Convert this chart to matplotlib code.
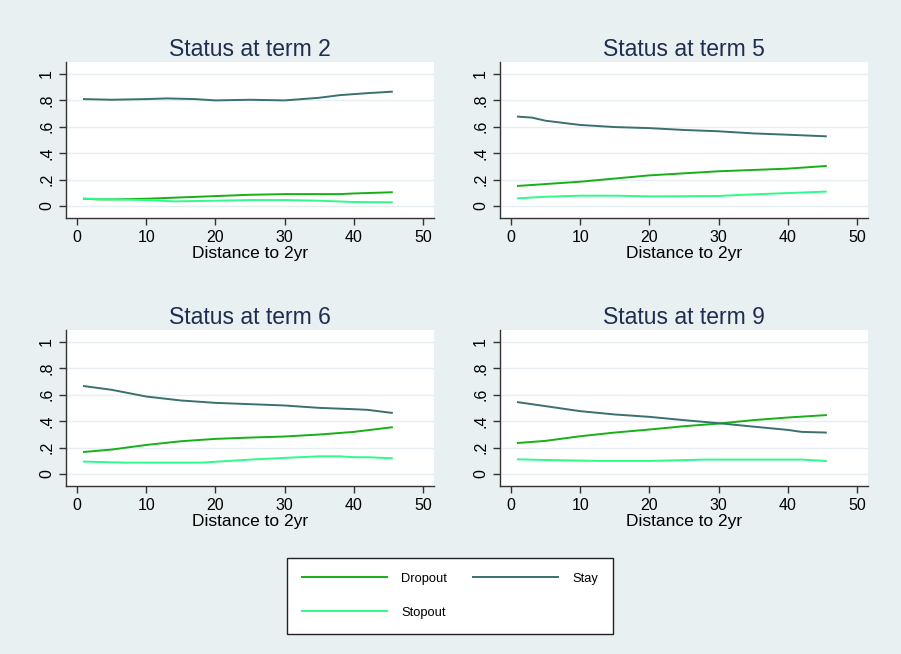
import matplotlib
matplotlib.use("Agg")
import matplotlib.pyplot as plt
import numpy as np

plt.rcParams['font.family'] = ['Liberation Sans', 'DejaVu Sans']

titles = ["Status at term 2", "Status at term 5", "Status at term 6", "Status at term 9"]
series_names = ["Dropout", "Stopout", "Stay"]
xlabel = "Distance to 2yr"
ytick_vals = [0, 0.2, 0.4, 0.6, 0.8, 1]
ytick_labels = ["0", ".2", ".4", ".6", ".8", "1"]
xtick_vals = [0, 10, 20, 30, 40, 50]

# term 2
t2_x_stay = [1, 5, 10, 13, 17, 20, 25, 30, 35, 38, 42, 45.5]
t2_stay = [0.81, 0.805, 0.81, 0.815, 0.81, 0.80, 0.805, 0.80, 0.82, 0.84, 0.855, 0.866]
t2_x_drop = [1, 3, 5, 10, 15, 20, 25, 30, 35, 38, 40, 45.5]
t2_drop = [0.055, 0.05, 0.05, 0.055, 0.065, 0.075, 0.085, 0.09, 0.09, 0.09, 0.095, 0.104]
t2_x_stop = [1, 5, 10, 14, 20, 25, 30, 35, 40, 45.5]
t2_stop = [0.055, 0.05, 0.045, 0.035, 0.04, 0.045, 0.045, 0.04, 0.03, 0.028]

# term 5
t5_x_stay = [1, 3, 5, 10, 15, 20, 25, 30, 35, 40, 45.5]
t5_stay = [0.677, 0.67, 0.646, 0.614, 0.598, 0.59, 0.576, 0.566, 0.55, 0.54, 0.528]
t5_x_drop = [1, 10, 20, 30, 40, 45.5]
t5_drop = [0.152, 0.184, 0.232, 0.263, 0.283, 0.303]
t5_x_stop = [1, 5, 10, 15, 20, 25, 30, 35, 40, 45.5]
t5_stop = [0.058, 0.07, 0.078, 0.078, 0.073, 0.074, 0.076, 0.088, 0.098, 0.109]

# term 6
t6_x_stay = [1, 5, 10, 15, 20, 25, 30, 35, 40, 42, 45.5]
t6_stay = [0.666, 0.638, 0.587, 0.557, 0.539, 0.529, 0.519, 0.501, 0.491, 0.486, 0.463]
t6_x_drop = [1, 5, 10, 15, 20, 25, 30, 35, 40, 45.5]
t6_drop = [0.167, 0.185, 0.22, 0.248, 0.266, 0.276, 0.284, 0.299, 0.319, 0.354]
t6_x_stop = [1, 7, 18, 25, 30, 35, 38, 40, 42, 45.5]
t6_stop = [0.094, 0.086, 0.086, 0.109, 0.122, 0.134, 0.134, 0.127, 0.127, 0.119]

# term 9
t9_x_stay = [1, 5, 10, 15, 20, 25, 30, 35, 40, 42, 45.5]
t9_stay = [0.544, 0.514, 0.476, 0.451, 0.433, 0.408, 0.385, 0.359, 0.334, 0.319, 0.314]
t9_x_drop = [1, 5, 10, 15, 20, 25, 30, 35, 40, 45.5]
t9_drop = [0.235, 0.251, 0.286, 0.314, 0.337, 0.362, 0.382, 0.408, 0.428, 0.446]
t9_x_stop = [1, 5, 13, 20, 28, 35, 42, 45.5]
t9_stop = [0.111, 0.106, 0.099, 0.099, 0.109, 0.109, 0.109, 0.099]

panels = [
    (t2_x_drop, t2_drop, t2_x_stop, t2_stop, t2_x_stay, t2_stay),
    (t5_x_drop, t5_drop, t5_x_stop, t5_stop, t5_x_stay, t5_stay),
    (t6_x_drop, t6_drop, t6_x_stop, t6_stop, t6_x_stay, t6_stay),
    (t9_x_drop, t9_drop, t9_x_stop, t9_stop, t9_x_stay, t9_stay),
]

colors = ["#17b017", "#2efb8c", "#3a7070"]
bg = "#e8f0f2"
title_color = "#1f2d4e"
W, H = 901, 654

fig = plt.figure(figsize=(W / 100, H / 100), dpi=100, facecolor=bg)

lefts = [66, 500, 66, 500]
tops = [62, 62, 330, 330]
pw, ph = 368, 156

handles = []
for i, (pdata, title) in enumerate(zip(panels, titles)):
    l = lefts[i] / W
    b = 1 - (tops[i] + ph) / H
    ax = fig.add_axes([l, b, pw / W, ph / H])
    ax.set_facecolor("white")
    xs_d, ys_d, xs_s, ys_s, xs_st, ys_st = pdata
    l1, = ax.plot(xs_d, ys_d, color=colors[0], lw=1.4)
    l2, = ax.plot(xs_s, ys_s, color=colors[1], lw=1.4)
    l3, = ax.plot(xs_st, ys_st, color=colors[2], lw=1.4)
    if i == 0:
        handles = [l1, l2, l3]
    ax.set_xlim(-1.59, 51.59)
    ax.set_ylim(-0.091, 1.091)
    ax.set_yticks(ytick_vals)
    ax.set_yticklabels(ytick_labels, rotation=90, va='center')
    ax.set_xticks(xtick_vals)
    ax.grid(axis='y', color='#e6eef2', lw=1.0)
    ax.set_axisbelow(True)
    for s in ['top', 'right']:
        ax.spines[s].set_visible(False)
    for s in ['left', 'bottom']:
        ax.spines[s].set_color('#333333')
        ax.spines[s].set_linewidth(1.0)
    ax.tick_params(axis='both', labelsize=11.5, color='#333333', length=5, width=1, labelcolor='black')
    ax.set_xlabel(xlabel, fontsize=12.5, labelpad=1)
    ax.set_title(title, fontsize=16.5, color=title_color, pad=4)

leg = fig.legend([handles[0], handles[1], handles[2]], series_names, ncol=2,
                 loc='upper left', bbox_to_anchor=(287 / W, 1 - 558 / H),
                 fontsize=9.3, handlelength=6.6, handletextpad=1.1,
                 columnspacing=2.0, labelspacing=1.7, borderpad=1.15,
                 borderaxespad=0, frameon=True, fancybox=False, framealpha=1)
leg.get_frame().set_edgecolor('#222222')
leg.get_frame().set_linewidth(1.0)
leg.get_frame().set_facecolor('white')

fig.savefig("out.png", dpi=100, facecolor=bg)
